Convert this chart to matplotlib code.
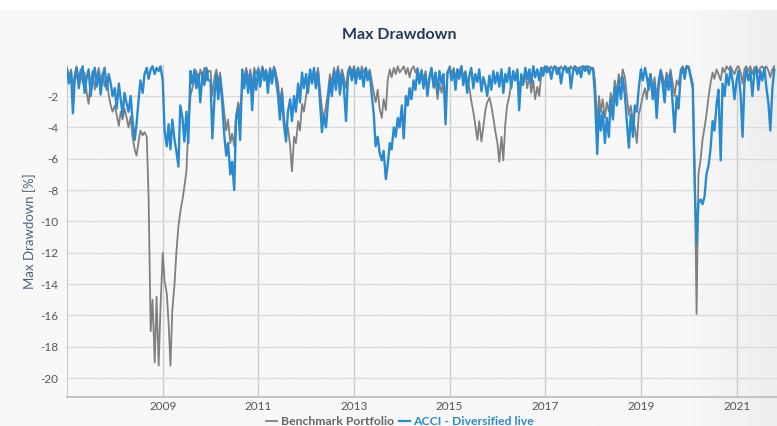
import numpy as np
import pandas as pd
import matplotlib
matplotlib.use("Agg")
import matplotlib.pyplot as plt
from matplotlib.lines import Line2D
from matplotlib.colors import LinearSegmentedColormap

plt.rcParams['font.family'] = ['Lato', 'DejaVu Sans']

# semi-monthly observations starting Jan 2007
start_date = "2007-01-01"

acci_values = [
    # 2007
    -0.3, -1.2, -0.5, -3.1, -1.0, -0.2, -1.5, -0.6, -0.1, -1.8, -0.8, -0.3, -2.0, -0.9, -0.2, -1.4, -0.5, -1.9, -0.7, -0.2, -1.6, -0.6, -1.2, -2.0,
    # 2008
    -1.5, -2.8, -1.2, -2.2, -3.2, -1.8, -2.5, -3.0, -2.0, -3.5, -4.8, -3.8, -2.2, -1.0, -1.8, -0.6, -0.2, -0.9, -0.3, -0.1, -0.6, -0.2, -0.4, -0.1,
    # 2009
    -1.0, -4.2, -5.2, -3.8, -5.4, -3.5, -4.8, -5.5, -6.5, -2.6, -3.4, -4.9, -3.0, -5.0, -0.4, -1.2, -0.3, -1.5, -0.6, -2.4, -0.5, -1.3, -0.2, -1.0,
    # 2010
    -1.0, -4.7, -2.0, -0.6, -2.2, -0.8, -2.5, -4.4, -5.8, -5.0, -7.0, -6.2, -8.0, -3.5, -2.8, -4.8, -0.3, -1.5, -0.4, -1.8, -0.6, -2.9, -0.5, -1.6,
    # 2011
    -0.3, -1.4, -0.2, -1.0, -0.4, -1.8, -0.3, -1.2, -0.2, -0.9, -2.0, -3.5, -1.8, -3.8, -4.9, -3.0, -2.2, -3.6, -2.0, -3.0, -1.2, -2.4, -0.5, -1.5,
    # 2012
    -0.6, -1.8, -0.3, -1.2, -0.2, -1.5, -0.5, -2.2, -4.3, -3.2, -4.0, -2.5, -1.0, -2.0, -0.4, -1.6, -0.3, -1.9, -0.6, -1.4, -3.6, -0.8, -0.2, -1.0,
    # 2013
    -0.3, -1.2, -0.2, -0.9, -0.4, -1.4, -0.2, -1.0, -0.5, -1.8, -3.2, -5.2, -4.6, -5.6, -6.1, -5.5, -7.3, -6.4, -5.0, -5.4, -4.0, -4.6, -3.4, -4.0,
    # 2014
    -2.6, -4.7, -2.0, -2.6, -1.5, -2.2, -1.0, -1.6, -0.3, -1.2, -0.4, -1.5, -0.6, -2.0, -0.8, -0.2, -1.4, -0.5, -1.8, -0.4, -1.2, -0.6, -3.8, -0.5,
    # 2015
    -0.2, -1.0, -0.4, -1.6, -0.3, -0.9, -0.1, -1.3, -0.5, -1.8, -0.7, -0.2, -1.5, -0.6, -1.1, -0.3, -1.7, -0.8, -1.3, -2.0, -0.7, -1.6, -0.4, -1.2,
    # 2016
    -0.5, -1.4, -0.3, -1.8, -0.6, -1.1, -0.2, -1.5, -0.4, -1.0, -0.3, -2.9, -0.6, -1.3, -0.2, -0.9, -0.3, -1.2, -0.1, -0.8, -0.3, -1.0, -0.2, -0.7,
    # 2017
    -0.1, -0.5, -0.2, -0.9, -0.3, -0.1, -0.6, -0.2, -1.2, -0.4, -0.1, -0.5, -0.2, -1.5, -0.4, -0.1, -0.6, -0.2, -0.8, -0.1, -0.4, -0.1, -0.6, -0.2,
    # 2018
    -0.3, -2.0, -5.7, -2.8, -4.2, -3.0, -5.0, -3.4, -4.6, -2.2, -3.5, -1.5, -2.6, -1.0, -2.2, -0.8, -2.0, -3.6, -5.3, -3.2, -4.6, -2.6, -3.0, -1.5,
    # 2019
    -0.3, -1.0, -0.2, -0.8, -1.6, -0.6, -2.2, -1.2, -3.4, -1.5, -0.4, -1.2, -2.4, -0.8, -1.6, -0.5, -2.6, -4.3, -2.0, -2.8, -0.6, -0.2, -0.9, -0.1,
    # 2020
    -0.2, -0.8, -1.5, -7.5, -11.4, -8.8, -8.6, -8.9, -8.4, -7.0, -6.4, -5.4, -3.6, -4.2, -2.5, -1.6, -6.1, -1.2, -2.0, -0.6, -1.3, -0.3, -1.0, -2.2,
    # 2021
    -1.0, -0.4, -2.0, -4.6, -1.2, -0.3, -1.0, -0.4, -2.0, -0.6, -0.2, -1.6, -0.4, -1.0, -0.2, -1.4, -2.5, -4.2, -1.5, -0.3,
]

bench_values = [
    # 2007
    -0.2, -0.8, -0.3, -1.5, -0.6, -0.1, -0.9, -0.3, -1.2, -0.5, -1.8, -2.5, -1.0, -0.4, -1.6, -0.7, -0.2, -1.1, -0.5, -1.4, -0.8, -1.9, -2.6, -3.0,
    # 2008
    -2.6, -3.2, -3.9, -3.0, -3.5, -2.8, -3.4, -4.0, -3.3, -4.6, -5.4, -5.8, -4.9, -4.2, -4.5, -4.3, -4.6, -8.4, -17.0, -15.0, -19.0, -14.8, -19.2, -15.5,
    # 2009
    -12.0, -13.8, -14.6, -16.5, -19.2, -15.7, -14.0, -12.0, -10.3, -9.4, -8.6, -7.8, -6.8, -4.0, -2.0, -1.5, -1.0, -0.4, -1.2, -0.3, -0.8, -0.2, -1.0, -0.4,
    # 2010
    -0.4, -2.0, -0.8, -0.3, -1.2, -0.5, -1.8, -3.0, -4.2, -3.5, -5.0, -4.4, -5.2, -3.2, -2.4, -3.0, -1.5, -0.8, -0.2, -1.0, -0.3, -1.4, -0.2, -0.6,
    # 2011
    -0.2, -0.8, -0.1, -0.6, -0.3, -1.0, -0.2, -0.7, -0.1, -0.5, -1.2, -2.5, -1.5, -3.2, -4.5, -4.0, -5.2, -6.8, -4.6, -5.0, -3.6, -4.2, -2.5, -3.0,
    # 2012
    -2.0, -1.0, -0.4, -1.2, -0.3, -0.9, -0.2, -1.5, -2.8, -3.5, -2.6, -1.8, -0.6, -1.2, -0.2, -0.8, -0.1, -1.0, -0.3, -0.8, -1.5, -0.4, -0.1, -0.5,
    # 2013
    -0.1, -0.6, -0.2, -0.8, -0.1, -0.5, -0.2, -0.7, -0.3, -1.0, -1.8, -2.4, -1.6, -2.8, -3.4, -2.2, -2.9, -1.0, -0.3, -0.8, -0.2, -0.6, -0.1, -0.5,
    # 2014
    -0.3, -0.1, -0.6, -0.2, -0.8, -0.3, -0.1, -0.5, -0.2, -0.9, -0.3, -1.0, -0.4, -1.6, -0.7, -0.3, -1.5, -1.0, -2.2, -1.2, -1.8, -0.8, -2.4, -0.6,
    # 2015
    -0.1, -0.6, -0.2, -0.9, -0.3, -0.5, -0.1, -0.8, -0.4, -1.0, -1.5, -2.3, -3.0, -3.8, -4.8, -3.6, -4.9, -4.0, -2.9, -2.4, -2.1, -2.6, -3.4, -4.2,
    # 2016
    -5.0, -6.2, -4.6, -6.1, -3.8, -2.6, -2.0, -1.2, -0.6, -1.0, -0.4, -1.6, -0.8, -1.2, -0.5, -1.5, -0.7, -1.8, -1.0, -2.2, -1.4, -2.0, -0.6, -0.2,
    # 2017
    -0.2, -0.1, -0.4, -0.1, -0.3, -0.1, -0.2, -0.4, -0.1, -0.3, -0.1, -0.2, -0.5, -0.1, -0.3, -0.1, -0.2, -0.4, -0.1, -0.2, -0.1, -0.3, -0.1, -0.2,
    # 2018
    -0.2, -1.0, -3.8, -2.0, -3.0, -2.2, -3.4, -2.4, -3.0, -1.8, -2.4, -1.0, -1.8, -0.6, -1.2, -0.3, -0.8, -2.0, -3.2, -2.6, -3.6, -4.0, -5.0, -3.2,
    # 2019
    -2.6, -2.0, -1.5, -2.2, -1.0, -0.6, -1.5, -0.8, -2.2, -1.0, -0.3, -0.7, -1.4, -0.5, -0.9, -0.3, -1.2, -2.0, -1.0, -1.3, -0.3, -0.1, -0.4, -0.1,
    # 2020
    -0.1, -0.6, -1.2, -6.5, -15.9, -7.0, -6.0, -4.8, -4.0, -3.2, -2.0, -1.2, -0.5, -0.9, -0.3, -0.6, -1.0, -0.2, -0.5, -0.1, -0.3, -0.1, -0.4, -0.6,
    # 2021
    -0.2, -0.1, -0.5, -1.2, -0.3, -0.1, -0.4, -0.1, -0.6, -0.2, -0.1, -0.5, -0.2, -0.1, -0.3, -0.1, -0.4, -0.8, -0.3, -0.1,
]

y_ticks = [-2, -4, -6, -8, -10, -12, -14, -16, -18, -20]
x_tick_years = [2009, 2011, 2013, 2015, 2017, 2019, 2021]

series_names = ["Benchmark Portfolio", "ACCI - Diversified live"]

dates = pd.date_range(start_date, periods=len(acci_values), freq="SMS")

W, H = 777, 426
fig = plt.figure(figsize=(W / 100, H / 100), dpi=100)
fig.patch.set_facecolor("white")

# background panel with slight gradient on the right
bg = fig.add_axes([0, 0, 1, (H - 10) / H], zorder=0)
xs = np.linspace(0, 1, 400)
shade = np.where(xs > 0.88, (xs - 0.88) / 0.12, 0.0)
grad = np.vstack([shade, shade])
cmap = LinearSegmentedColormap.from_list("bgc", ["#f8f8f8", "#eeeeee"])
bg.imshow(grad, aspect="auto", cmap=cmap, extent=[0, 1, 0, 1], vmin=0, vmax=1)
bg.set_axis_off()

ax_left, ax_top, ax_bottom = 67, 64.7, 397
ax = fig.add_axes([ax_left / W, 1 - ax_bottom / H, 1 - ax_left / W, (ax_bottom - ax_top) / H], zorder=1)
ax.set_facecolor("none")

gray = "#808080"
blue = "#2a8ad0"
ax.plot(dates, bench_values, color=gray, lw=1.3, zorder=3)
ax.plot(dates, acci_values, color=blue, lw=1.7, zorder=4)

ax.set_ylim(-21.2, 0)
ax.set_xlim(dates[0], pd.Timestamp("2021-11-05"))

ax.set_yticks(y_ticks)
ax.set_yticklabels([str(v) for v in y_ticks])
ax.set_xticks([pd.Timestamp(f"{y}-01-01") for y in x_tick_years])
ax.set_xticklabels([str(y) for y in x_tick_years])

ax.grid(True, axis="y", color="#dcdcdc", lw=1.0, zorder=1)
ax.grid(True, axis="x", color="#cccccc", lw=1.0, zorder=1)
ax.tick_params(axis="both", length=0, labelsize=8.5, colors="#555555")
ax.tick_params(axis="x", pad=3)
ax.tick_params(axis="y", pad=6)

for s in ["top", "right"]:
    ax.spines[s].set_visible(False)
ax.spines["left"].set_color("#cccccc")
ax.spines["bottom"].set_color("#bbbbbb")
ax.spines["bottom"].set_linewidth(1.2)

ax.set_ylabel("Max Drawdown [%]", color="#4a6285", fontsize=9.5)
ax.yaxis.set_label_coords(-(ax_left - 36) / (W - ax_left), 0.5)

fig.text(399 / W, 1 - 35 / H, "Max Drawdown", ha="center", va="center",
         fontsize=11.5, fontweight="bold", color="#253858")

handles = [Line2D([0], [0], color=gray, lw=1.3), Line2D([0], [0], color=blue, lw=1.6)]
leg = fig.legend(handles, series_names, loc="center", bbox_to_anchor=(400 / W, 1 - 421.5 / H),
                 ncol=2, frameon=False, fontsize=8.8, handlelength=0.9, handletextpad=0.3,
                 columnspacing=0.4, borderaxespad=0, borderpad=0)
for txt, col in zip(leg.get_texts(), ["#666666", blue]):
    txt.set_color(col)
    txt.set_fontweight("bold")

fig.savefig("out.png", dpi=100, facecolor=fig.get_facecolor())
